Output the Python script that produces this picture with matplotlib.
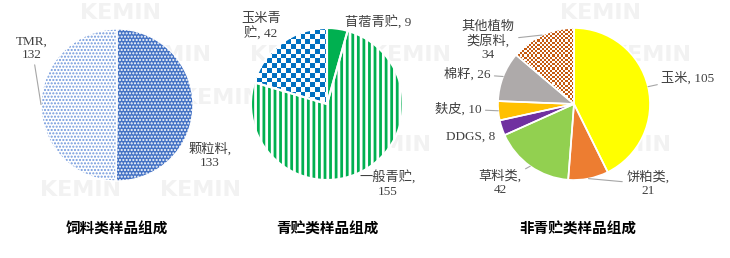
import matplotlib
matplotlib.use('Agg')
import matplotlib.pyplot as plt
import numpy as np
from matplotlib.colors import ListedColormap

plt.rcParams['font.family'] = ['Liberation Serif', 'Noto Sans CJK SC']

# data
feed_names = ['颗粒料', 'TMR']
feed_values = [133, 132]
silage_names = ['苜蓿青贮', '一般青贮', '玉米青贮']
silage_values = [9, 155, 42]
other_names = ['玉米', '饼粕类', '草料类', 'DDGS', '麸皮', '棉籽', '其他植物类原料']
other_values = [105, 21, 42, 8, 10, 26, 34]
titles = ['饲料类样品组成', '青贮类样品组成', '非青贮类样品组成']

W, H = 730, 258
R = 76  # pie radius, px
LEADER = '#A6A6A6'

fig = plt.figure(figsize=(W / 100, H / 100), dpi=100)

# faint KEMIN watermark behind everything
wm_rows = [13, 55, 98, 145, 190, 233]
wm_offsets = [0, 50, 100, 30, 80, 30]
watermarks = []
for y, off in zip(wm_rows, wm_offsets):
    for x in range(off, W, 120):
        if 40 <= x <= 690:
            watermarks.append(fig.text(x / W, 1 - y / H, 'KEMIN', fontsize=16,
                                       fontweight='bold', family='DejaVu Sans',
                                       color='#F2F2F2', ha='center', va='center',
                                       zorder=-5))

real_texts = []


def make_ax(cx, cy, half=112):
    ax = fig.add_axes([(cx - half) / W, (H - cy - half) / H, 2 * half / W, 2 * half / H])
    ax.axis('off')
    return ax


def finish(ax, half=112):
    lim = half / R
    ax.set_xlim(-lim, lim)
    ax.set_ylim(-lim, lim)
    ax.set_aspect('equal')


def checker(ax, wedge, cell, colors):
    n = int(2.2 / cell)
    board = np.add.outer(np.arange(n), np.arange(n)) % 2
    im = ax.imshow(board, cmap=ListedColormap(colors), extent=(-1.1, 1.1, -1.1, 1.1),
                   interpolation='nearest', zorder=2)
    im.set_clip_path(wedge)


def borders(ax, values, lw=1.2):
    ax.pie(values, startangle=90, counterclock=False,
           wedgeprops=dict(fill=False, edgecolor='white', linewidth=lw, zorder=3))


def px(cx, cy, x, y):
    return ((x - cx) / R, (cy - y) / R)


def label(ax, cx, cy, wedge, text, pos, leader=False):
    th = np.deg2rad((wedge.theta1 + wedge.theta2) / 2)
    xy = (np.cos(th), np.sin(th))
    kw = dict(arrowprops=dict(arrowstyle='-', color=LEADER, lw=0.8,
                              shrinkA=1, shrinkB=0)) if leader else {}
    a = ax.annotate(text, xy=xy, xytext=px(cx, cy, *pos), ha='center', va='center',
                    fontsize=9.5, color='#404040', linespacing=1.15, zorder=5, **kw)
    real_texts.append(a)


# ---- pie 1
cx1, cy1 = 117, 105
ax1 = make_ax(cx1, cy1)
w1, _ = ax1.pie(feed_values, startangle=90, counterclock=False)
plt.rcParams['hatch.linewidth'] = 1.0
w1[0].set(facecolor='#4472C4', edgecolor='white', hatch='.....', linewidth=0)
w1[1].set(facecolor='white', edgecolor='#6F97DC', hatch='.....', linewidth=0)
borders(ax1, feed_values, lw=1.0)
label(ax1, cx1, cy1, w1[0], f'{feed_names[0]},\n{feed_values[0]}', (210, 156))
label(ax1, cx1, cy1, w1[1], f'{feed_names[1]},\n{feed_values[1]}', (32, 48), leader=True)
finish(ax1)

# ---- pie 2
cx2, cy2 = 327, 104
ax2 = make_ax(cx2, cy2)
plt.rcParams['hatch.linewidth'] = 2.0
w2, _ = ax2.pie(silage_values, startangle=90, counterclock=False)
w2[0].set(facecolor='#00B050', linewidth=0)
w2[1].set(facecolor='white', edgecolor='#00B050', hatch='|||', linewidth=0)
w2[2].set(facecolor='white', linewidth=0)
checker(ax2, w2[2], 0.062, ['white', '#0070C0'])
borders(ax2, silage_values, lw=1.5)
label(ax2, cx2, cy2, w2[0], f'{silage_names[0]}, {silage_values[0]}', (378, 23))
label(ax2, cx2, cy2, w2[1], f'{silage_names[1]},\n{silage_values[1]}', (388, 184))
label(ax2, cx2, cy2, w2[2], f'{silage_names[2][:3]}\n{silage_names[2][3:]}, {silage_values[2]}', (261, 27))
finish(ax2)

# ---- pie 3
cx3, cy3 = 574, 104
ax3 = make_ax(cx3, cy3)
colors3 = ['#FFFF00', '#ED7D31', '#92D050', '#7030A0', '#FFC000', '#AEAAAA', 'white']
w3, _ = ax3.pie(other_values, startangle=90, counterclock=False, colors=colors3,
                wedgeprops=dict(linewidth=0))
checker(ax3, w3[6], 0.028, ['white', '#C55A11'])
borders(ax3, other_values, lw=1.2)
texts3 = [
    (f'{other_names[0]}, {other_values[0]}', (688, 78), True),
    (f'{other_names[1]},\n{other_values[1]}', (648, 184), True),
    (f'{other_names[2]},\n{other_values[2]}', (500, 183), True),
    (f'{other_names[3]}, {other_values[3]}', (471, 137), False),
    (f'{other_names[4]}, {other_values[4]}', (458, 109), True),
    (f'{other_names[5]}, {other_values[5]}', (467, 74), True),
    (f'{other_names[6][:4]}\n{other_names[6][4:]},\n{other_values[6]}', (488, 41), True),
]
for w, (t, pos, ld) in zip(w3, texts3):
    label(ax3, cx3, cy3, w, t, pos, leader=ld)
finish(ax3)

# titles
for t, x in zip(titles, [117, 327, 578]):
    real_texts.append(fig.text(x / W, 1 - 229 / H, t, ha='center', va='center',
                               fontsize=10.5, fontweight='bold',
                               family='Noto Sans CJK SC', color='black'))

# drop watermark copies that would sit under a label or title
fig.canvas.draw()
rend = fig.canvas.get_renderer()
boxes = [t.get_window_extent(rend) for t in real_texts]
for wm in watermarks:
    bb = wm.get_window_extent(rend)
    if any(bb.overlaps(b) for b in boxes):
        wm.remove()

fig.savefig('out.png', dpi=100)
